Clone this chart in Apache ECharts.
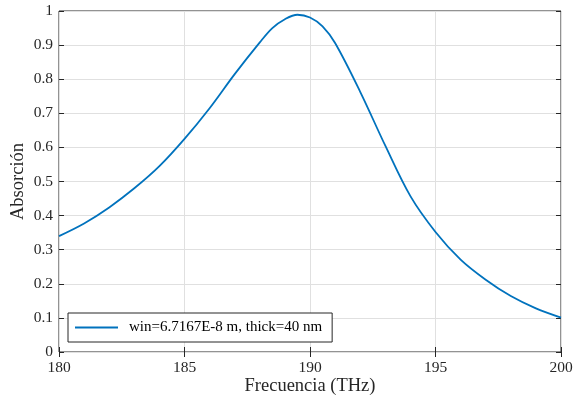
<!DOCTYPE html>
<html>
<head>
<meta charset="utf-8">
<script src="https://cdn.jsdelivr.net/npm/echarts@6/dist/echarts.min.js"></script>
<style>html,body{margin:0;padding:0;background:#fff;}#c{width:582px;height:402px;}</style>
</head>
<body>
<div id="c"></div>
<script>
const freq = [180, 181, 182, 183, 184, 185, 186, 187, 188, 188.5, 189, 189.5, 190, 190.5, 191, 192, 193, 194, 195, 196, 197, 198, 199, 200];
const absorcion = [0.340, 0.377, 0.424, 0.480, 0.545, 0.625, 0.715, 0.815, 0.908, 0.950, 0.976, 0.989, 0.981, 0.955, 0.906, 0.763, 0.605, 0.457, 0.352, 0.271, 0.212, 0.164, 0.128, 0.101];
const seriesName = 'win=6.7167E-8 m, thick=40 nm';
const xTitle = 'Frecuencia (THz)';
const yTitle = 'Absorción';

const axisColor = '#262626';
const gridColor = '#e0e0e0';
const font = 'Liberation Serif';
const chart = echarts.init(document.getElementById('c'));
const tickCommon = {show: true, inside: true, length: 5, lineStyle: {color: axisColor, width: 1}};
chart.setOption({
  animation: false,
  grid: {left: 59, right: 21, top: 11, bottom: 50, outerBoundsMode: 'none', containLabel: false,
         show: true, borderColor: axisColor, borderWidth: 1, backgroundColor: '#fff'},
  legend: {
    left: 68, top: 313, orient: 'vertical',
    backgroundColor: '#fff', borderColor: axisColor, borderWidth: 1,
    padding: [7, 10, 7, 7],
    icon: 'rect', itemWidth: 43, itemHeight: 2,
    itemStyle: {color: '#0072BD'},
    textStyle: {fontFamily: font, fontSize: 15, color: '#000', padding: [0, 0, 0, 6]},
    data: [seriesName]
  },
  xAxis: [{
    type: 'value', min: 180, max: 200, interval: 5,
    name: xTitle, nameLocation: 'middle', nameGap: 25, nameMoveOverlap: false,
    nameTextStyle: {fontFamily: font, fontSize: 18.5, color: axisColor},
    axisLine: {show: false},
    axisTick: tickCommon,
    axisLabel: {fontFamily: font, fontSize: 15.5, color: axisColor, margin: 8},
    splitLine: {show: true, lineStyle: {color: gridColor, width: 1}}
  }, {
    type: 'value', min: 180, max: 200, interval: 5, position: 'top',
    axisLine: {show: false}, axisTick: tickCommon, axisLabel: {show: false}, splitLine: {show: false}
  }],
  yAxis: [{
    type: 'value', min: 0, max: 1, interval: 0.1,
    name: yTitle, nameLocation: 'middle', nameGap: 31, nameMoveOverlap: false,
    nameTextStyle: {fontFamily: font, fontSize: 18.5, color: axisColor},
    axisLine: {show: false},
    axisTick: tickCommon,
    axisLabel: {fontFamily: font, fontSize: 15.5, color: axisColor, margin: 6, formatter: v => String(Math.round(v * 10) / 10)},
    splitLine: {show: true, lineStyle: {color: gridColor, width: 1}}
  }, {
    type: 'value', min: 0, max: 1, interval: 0.1, position: 'right',
    axisLine: {show: false}, axisTick: tickCommon, axisLabel: {show: false}, splitLine: {show: false}
  }],
  series: [{
    name: seriesName, type: 'line', symbol: 'none', smooth: 0.35,
    xAxisIndex: 0, yAxisIndex: 0,
    lineStyle: {color: '#0072BD', width: 1.8},
    itemStyle: {color: '#0072BD'},
    data: freq.map((f, i) => [f, absorcion[i]])
  }]
});
</script>
</body>
</html>
